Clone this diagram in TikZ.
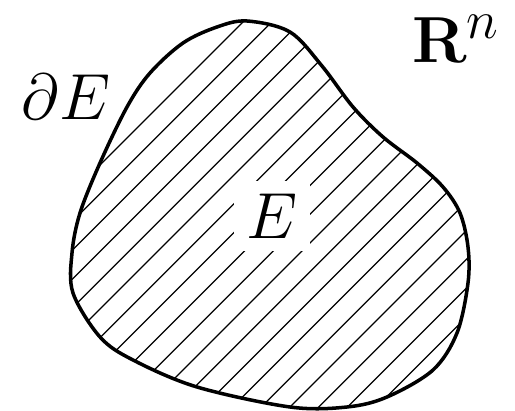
\documentclass[tikz,border=0pt]{standalone}
\usepackage{graphicx}
\usepackage{amsmath}
\usetikzlibrary{calc}
\tikzset{
  setline/.style={line width=2pt,line join=round},
  hatchline/.style={line width=0.7pt},
  biglabel/.style={font=\Huge,inner sep=0pt},
}
\newcommand{\biglbl}[1]{\scalebox{1.49}{#1}}
\def\setpath{plot[smooth cycle,tension=0.55] coordinates{
  (247,21) (290,32) (322,66) (353,107) (383,137) (417,163) (443,187)
  (460,213) (468,247) (468,283) (457,333) (433,370) (387,397) (347,407)
  (290,407) (197,387) (133,360) (100,337) (73,293) (72,253) (80,213)
  (100,163) (127,107) (150,73) (183,43) (217,27)}}

\begin{document}
\begin{tikzpicture}[x=0.02cm,y=-0.02cm]
  \useasboundingbox (0,0) rectangle (515,411);

  % hatching inside the set
  \begin{scope}
    \clip \setpath;
    \foreach \k in {0,...,19}{
      \pgfmathsetmacro{\c}{265+28.8*\k}
      \draw[hatchline] (\c-420,420) -- (\c+20,-20);
    }
  \end{scope}

  \draw[setline] \setpath;

  \node[biglabel,fill=white,inner sep=0.25cm] (setE) at (272,216) {\biglbl{$E$}};
  \node[biglabel] (bdry) at (66,97) {\biglbl{$\partial E$}};
  \node[biglabel] (space) at (456,39) {\biglbl{$\mathbf{R}^n$}};
\end{tikzpicture}
\end{document}
